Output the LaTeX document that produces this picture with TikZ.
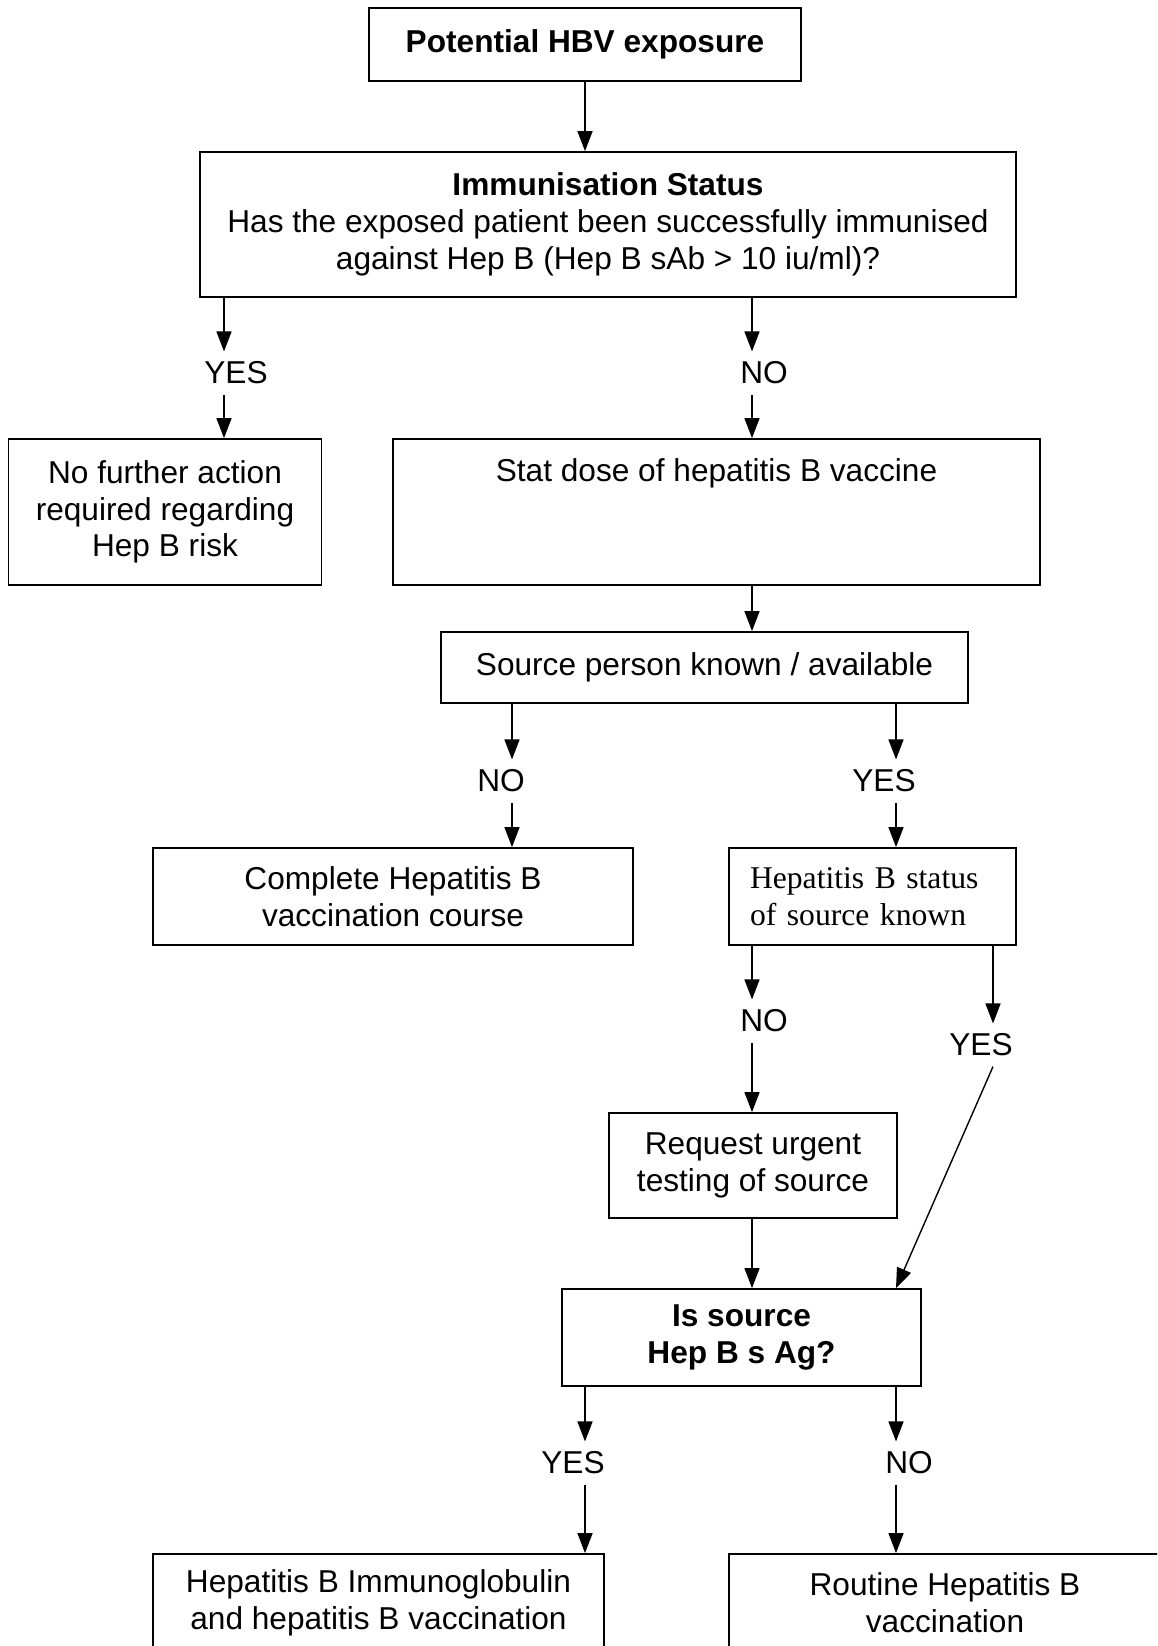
\documentclass[tikz,border=0pt]{standalone}
\usepackage{fontspec}
\setmainfont{Liberation Sans}
\newfontfamily\timesfont{Liberation Serif}
\usetikzlibrary{arrows.meta}
\tikzstyle{wblock} = [rectangle, draw, line width=1pt, fill=white, align=center, inner sep=0pt, font=\fontsize{18}{20.9}\selectfont]
\tikzstyle{bblock} = [wblock, font=\fontsize{18}{20.9}\selectfont\bfseries]
\tikzstyle{answer} = [inner sep=0.2cm, font=\fontsize{18}{20.9}\selectfont]
\tikzstyle{line} = [draw, line width=0.8pt, color=black, -{Triangle[length=0.4cm, width=0.3cm]}]

\begin{document}
\begin{tikzpicture}[node distance = 3cm, auto]
    \path [use as bounding box, clip] (0,0) rectangle (23.14,-32.92);
    % Arrow columns
    \coordinate (colA) at (4.48,0);
    \coordinate (colB) at (15.04,0);
    \coordinate (colC) at (10.24,0);
    \coordinate (colD) at (17.92,0);
    \coordinate (colE) at (19.86,0);
    \coordinate (colF) at (11.70,0);
    % Place nodes
    \node [bblock, minimum width=8.65cm, minimum height=1.45cm] (expo) at (11.70,-0.89) {Potential HBV exposure};
    \node [wblock, below of=expo, node distance=3.60cm, xshift=0.46cm, minimum width=16.31cm, minimum height=2.90cm] (immun) {\textbf{Immunisation Status}\\Has the exposed patient been successfully immunised\\against Hep B (Hep B sAb > 10 iu/ml)?};
    \node [wblock, below of=immun, node distance=5.75cm, xshift=-8.86cm, minimum width=6.26cm, minimum height=2.92cm] (nofurther) {No further action\\required regarding\\Hep B risk};
    \node [wblock, right of=nofurther, node distance=11.03cm, minimum width=12.94cm, minimum height=2.92cm, text depth=1.68cm] (statdose) {Stat dose of hepatitis B vaccine};
    \node [wblock, below of=statdose, node distance=3.11cm, xshift=-0.24cm, minimum width=10.54cm, minimum height=1.42cm] (source) {Source person known / available};
    \node [wblock, below of=source, node distance=4.58cm, xshift=-6.23cm, minimum width=9.60cm, minimum height=1.94cm] (complete) {Complete Hepatitis B\\vaccination course};
    \node [wblock, right of=complete, node distance=9.59cm, align=left, text width=4.90cm, inner xsep=0.42cm, minimum height=1.94cm, font=\fontsize{18}{20.9}\timesfont] (status) {Hepatitis B status\\of source known};
    \node [wblock, below of=status, node distance=5.38cm, xshift=-2.39cm, minimum width=5.76cm, minimum height=2.10cm] (request) {Request urgent\\testing of source};
    \node [bblock, below of=request, node distance=3.44cm, xshift=-0.23cm, minimum width=7.18cm, minimum height=1.94cm] (isag) {Is source\\Hep B s Ag?};
    \node [wblock, below of=isag, node distance=5.31cm, xshift=-7.26cm, minimum width=9.02cm, minimum height=1.96cm] (hbig) {Hepatitis B Immunoglobulin\\and hepatitis B vaccination};
    \node [wblock, right of=hbig, node distance=11.33cm, minimum width=8.64cm, minimum height=1.96cm] (routine) {Routine Hepatitis B\\vaccination};
    % Answers
    \node [answer] (yes1) at (4.72,-7.46) {YES};
    \node [answer] (no1) at (15.28,-7.46) {NO};
    \node [answer] (no2) at (10.02,-15.62) {NO};
    \node [answer] (yes2) at (17.68,-15.62) {YES};
    \node [answer] (no3) at (15.28,-20.42) {NO};
    \node [answer] (yes3) at (19.62,-20.90) {YES};
    \node [answer] (yes4) at (11.46,-29.26) {YES};
    \node [answer] (no4) at (18.18,-29.26) {NO};
    % Draw edges
    \path [line] (expo.south) -- (immun.north -| expo);
    \path [line] (immun.south -| colA) -- (yes1.north -| colA);
    \path [line] (yes1.south -| colA) -- (nofurther.north -| colA);
    \path [line] (immun.south -| colB) -- (no1.north -| colB);
    \path [line] (no1.south -| colB) -- (statdose.north -| colB);
    \path [line] (statdose.south -| colB) -- (source.north -| colB);
    \path [line] (source.south -| colC) -- (no2.north -| colC);
    \path [line] (no2.south -| colC) -- (complete.north -| colC);
    \path [line] (source.south -| colD) -- (yes2.north -| colD);
    \path [line] (yes2.south -| colD) -- (status.north -| colD);
    \path [line] (status.south -| colB) -- (no3.north -| colB);
    \path [line] (no3.south -| colB) -- (request.north -| colB);
    \path [line] (status.south -| colE) -- (yes3.north -| colE);
    \path [line] (yes3.south -| colE) -- (isag.north -| colD);
    \path [line] (request.south -| colB) -- (isag.north -| colB);
    \path [line] (isag.south -| colF) -- (yes4.north -| colF);
    \path [line] (yes4.south -| colF) -- (hbig.north -| colF);
    \path [line] (isag.south -| colD) -- (no4.north -| colD);
    \path [line] (no4.south -| colD) -- (routine.north -| colD);
\end{tikzpicture}
\end{document}
